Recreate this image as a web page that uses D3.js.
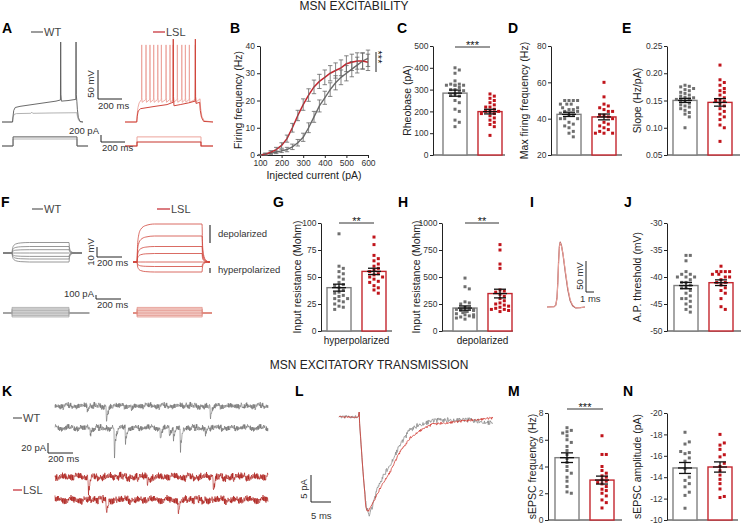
<!DOCTYPE html>
<html><head><meta charset="utf-8">
<script src="https://cdn.jsdelivr.net/npm/d3@7"></script>
<style>
body{margin:0;background:#fff;}
svg{display:block;font-family:"Liberation Sans",Arial,Helvetica,sans-serif;}
</style></head><body>
<svg id="c" width="741" height="525"></svg>
<script>
// ================= DATA =================
const groups = ["WT", "LSL"];

// A: current-clamp traces [time ms, mV]
const aWtSpiking = [[0,-80],[88,-80],[92,-70],[98,-60],[110,-55],[150,-53],[250,-50],[350,-47],[450,-44],[487,-42],[489,58],[491,-32],[495,-44],[550,-43],[615,-41],[617,58],[619,-33],[624,-45],[628,-58],[636,-72],[650,-79],[675,-80]];
const aWtSub = [[0,-80],[88,-80],[92,-72],[100,-67],[120,-65.5],[240,-65],[248,-63],[256,-65],[400,-64.5],[624,-64],[628,-70],[638,-77],[655,-80],[675,-80]];
const aLslLow = [[0,-80],[98,-80],[102,-70],[110,-61],[130,-57],[250,-53],[350,-50],[400,-46],[402,63],[404,-36],[408,-52],[460,-50],[530,-47],[584,-44],[586,63],[588,-36],[592,-48],[622,-46],[627,-60],[637,-72],[655,-79],[733,-80]];
const aLslHighBase = [[0,-80],[98,-80],[102,-66],[108,-55],[118,-47],[625,-40],[630,-56],[640,-70],[660,-78],[733,-80]];
const aLslHighSpikes = [139,175,208,239,273,303,342,375,402,436,473,503,536,586];
const aStimWt = [260, 200];   // pA
const aStimLsl = [260, 115];  // pA

// B: firing frequency vs injected current
const currents = [100,125,150,175,200,225,250,275,300,325,350,375,400,425,450,475,500,525,550,575,600];
const fWt  = [0,0.3,0.7,1,1.5,2,3,4.5,6.5,10,14,18,21,24,26.5,28.5,30,31.5,33,34.5,35.5];
const fWtErr = [0.2,0.3,0.4,0.5,0.6,0.8,1,1.2,1.5,1.8,2,2.2,2.4,2.5,2.6,2.7,2.8,2.8,2.9,2.9,3];
const fLsl = [0,0.3,1,2,3.5,6,10,14.5,18.5,22,25,27,28.5,30,31,32,33.5,34,34.5,34.5,34];
const fLslErr = [0.2,0.4,0.6,0.8,1,1.3,1.6,1.9,2.1,2.3,2.5,2.6,2.7,2.8,2.8,2.9,2.9,3,3,3,3];

// C–E, G, H, J, M, N: individual cells
const rheoWt  = [400,390,375,340,325,325,320,320,320,320,310,300,300,295,290,280,275,270,250,240,210,200,160,150,130];
const rheoLsl = [280,270,260,250,240,230,220,220,210,200,200,200,190,190,180,170,160,150,140,130,90];
const maxFWt  = [50,50,50,50,48,48,48,46,46,45,45,44,44,43,42,42,40,40,40,38,37,36,35,33,32,30];
const maxFLsl = [60,52,48,47,46,45,44,44,42,42,41,40,38,37,36,35,34,33,32,32,32];
const slopeWt  = [0.178,0.176,0.175,0.172,0.170,0.168,0.165,0.163,0.160,0.158,0.156,0.155,0.153,0.152,0.150,0.148,0.145,0.142,0.140,0.138,0.135,0.132,0.128,0.125,0.120,0.100];
const slopeLsl = [0.215,0.188,0.183,0.178,0.172,0.168,0.165,0.160,0.155,0.152,0.150,0.148,0.145,0.140,0.135,0.130,0.125,0.120,0.115,0.105,0.100,0.075];
const rinHypWt  = [90,60,58,55,53,50,48,45,43,42,40,38,36,35,33,32,30,30,28,27,25,23,22,20];
const rinHypLsl = [87,80,70,67,65,62,60,58,56,55,53,52,50,50,48,46,45,42,40,38,35];
const rinDepWt  = [490,410,390,270,250,260,200,190,220,210,200,190,180,170,160,150,140,130,120,110,180,200,150,130];
const rinDepLsl = [800,750,620,580,380,370,360,340,320,300,280,260,240,220,210,200,200,190,180,230,250];
const apThrWt  = [-36,-36,-37,-39.5,-39.5,-40,-40,-40.5,-41,-41,-41.5,-42,-42,-42.5,-43,-43.5,-44,-44,-44.5,-45,-45.5,-46,-46.5,-39,-40];
const apThrLsl = [-38,-39,-39,-39,-39,-39.5,-39.5,-40,-40,-40.5,-41,-41,-41.5,-42,-42.5,-43,-44,-45.5,-46];
const sFreqWt  = [6.9,6.7,6.6,6.5,6.3,6.0,5.8,5.5,5.2,4.9,4.6,4.3,4.0,3.7,3.5,3.2,2.9,2.5,2.1,2.0];
const sFreqLsl = [6.3,4.9,4.9,4.0,3.7,3.5,3.3,3.2,3.0,2.9,2.8,2.7,2.5,2.3,2.2,2.0,1.8,1.5,1.3,0.9];
const sAmpWt  = [-18.2,-17.3,-17.1,-16.4,-16.3,-16.2,-15.8,-15.5,-14.8,-14.0,-13.7,-13.4,-13.1,-12.6,-12.3,-11.1];
const sAmpLsl = [-18.0,-17.2,-17.0,-16.6,-16.1,-15.9,-15.3,-15.0,-14.6,-14.2,-13.8,-13.4,-12.9,-12.2,-12.1];

// F: steady-state voltage deflections (mV) and current steps (pA)
const fDefWt  = [10.5,6.5,3.3,0,-3.4,-6,-9];
const fDefLsl = [38,26,15.5,8.5,0,-4.5,-10];
const fSteps  = [-100,-60,-20,20,60,100,140];

// I: action potential waveform [ms, mV above baseline]
const apWave = [[0,0],[0.9,0.5],[1.1,3],[1.25,15],[1.35,40],[1.45,75],[1.55,98],[1.65,105],[1.8,100],[2.0,85],[2.3,55],[2.6,28],[2.9,10],[3.2,2],[3.6,-1.5],[4.2,-1],[4.75,0]];
const apWaveLsl = [[0,0],[0.9,0.5],[1.1,3],[1.25,14],[1.35,38],[1.45,72],[1.55,96],[1.65,104],[1.8,99],[2.0,86],[2.3,58],[2.6,31],[2.9,12],[3.2,3],[3.6,-1.2],[4.2,-1],[4.75,0]];

// K: sEPSC events [time ms, amplitude pA]
const kWt1  = [[256,10],[408,32],[608,10],[1240,32],[1496,10]];
const kWt2  = [[280,16],[472,58],[560,28],[840,24],[912,16],[944,20],[1000,50],[1200,10]];
const kLsl1 = [[264,32],[736,20],[1264,30]];
const kLsl2 = [[408,24],[984,30]];
const noiseTex = [0.3,-0.8,0.6,-0.2,0.9,-0.5,0.1,-0.9,0.4,0.7,-0.3,-0.6,0.8,-0.1,0.2,-0.7,0.5,-0.4,1.0,-0.8,0.0,0.6,-0.9,0.3,-0.2,0.7,-0.5,0.9,-0.6,0.1,-0.3,0.8,-1.0,0.4,0.2,-0.7,0.6,-0.1,0.5,-0.8,0.9,-0.4,0.0,0.7,-0.6,0.3,-0.9,0.8,-0.2,0.4,-0.5,1.0,-0.3,0.1,-0.8,0.6,-0.4,0.9,-0.7,0.2,0.5,-0.6,0.3,-0.1];
const epscKernel = [[0,0],[3,-1],[8,-0.6],[16,-0.32],[28,-0.12],[45,0]];

// L: averaged sEPSC [ms, pA]
const lWt  = [[0,0],[4.9,0],[5.0,1.7],[5.15,-1],[5.6,-6],[6.2,-12],[6.8,-16.5],[7.5,-18.3],[8.2,-17],[9.4,-13.8],[11,-11],[12.75,-8.9],[15,-5.5],[17.75,-2.4],[20,-1.4],[23.5,-0.7],[28,-0.5],[33,-0.6],[38.5,-1.1]];
const lLsl = [[0,0],[4.9,0],[5.0,1.5],[5.15,-1],[5.6,-6],[6.2,-12],[6.7,-16.5],[7.0,-17.6],[7.8,-17],[9.4,-14.5],[11,-12.2],[12.75,-10.2],[15,-6.8],[17.75,-3.9],[20,-2.6],[23.5,-1.3],[29.25,-0.9],[34,-0.5],[38.5,-0.2]];

// ================= DRAW =================
const svg = d3.select("#c");
const COL = {gray:"#7a7a7a", dgray:"#5a5a5a", lgray:"#a9a9a9", red:"#c4262e", dred:"#b01512", pink:"#eca39b", dot:"#6f6f6f", rdot:"#c0141b", axis:"#222", tick:"#333"};
const TICK_FS = 8.5;

function txt(x,y,s,o={}){
  const t=svg.append("text").attr("x",x).attr("y",y).text(s)
    .attr("font-size",o.size||10).attr("fill",o.fill||"#222").attr("text-anchor",o.anchor||"start");
  if(o.weight) t.attr("font-weight",o.weight);
  if(o.rot!==undefined) t.attr("transform",`rotate(${o.rot},${x},${y})`);
  if(o.dy) t.attr("dy",o.dy);
  return t;
}
function hline(x1,x2,y,c,w){svg.append("line").attr("x1",x1).attr("x2",x2).attr("y1",y).attr("y2",y).attr("stroke",c||"#222").attr("stroke-width",w||1);}
function vline(x,y1,y2,c,w){svg.append("line").attr("x1",x).attr("x2",x).attr("y1",y1).attr("y2",y2).attr("stroke",c||"#222").attr("stroke-width",w||1);}
function styleAxis(g){
  g.attr("font-family",null).attr("font-size",null);
  g.select(".domain").attr("stroke",COL.axis).attr("stroke-width",1);
  g.selectAll(".tick line").attr("stroke",COL.axis);
  g.selectAll(".tick text").attr("font-size",TICK_FS).attr("fill",COL.tick);
}
function interp(pts,t){
  if(t<=pts[0][0]) return pts[0][1];
  for(let i=1;i<pts.length;i++){ if(t<=pts[i][0]){const [t0,v0]=pts[i-1],[t1,v1]=pts[i]; return v0+(v1-v0)*(t-t0)/(t1-t0);} }
  return pts[pts.length-1][1];
}
function drawPath(pts,x,y,color,w,curve){
  svg.append("path").attr("d",d3.line().x(d=>x(d[0])).y(d=>y(d[1])).curve(curve||d3.curveLinear)(pts))
    .attr("fill","none").attr("stroke",color).attr("stroke-width",w||1).attr("stroke-linejoin","round");
}

// titles
txt(354,10,"MSN EXCITABILITY",{size:12,anchor:"middle",fill:"#222"});
txt(369,369,"MSN EXCITATORY TRANSMISSION",{size:12,anchor:"middle",fill:"#222"});

// panel letters
[["A",2,33],["B",230,33],["C",397,33],["D",508,33],["E",622,33],
 ["F",1,207],["G",273,207],["H",398,207],["I",530,207],["J",624,207],
 ["K",2,396],["L",295,396],["M",508,396],["N",623,396]].forEach(([s,x,y])=>txt(x,y,s,{size:14,weight:"bold",fill:"#000"}));

// ---------- A ----------
const yA = d3.scaleLinear().domain([-80,58]).range([122,42]);
const xAw = d3.scaleLinear().domain([0,675]).range([2,83]);
const xAl = d3.scaleLinear().domain([0,733]).range([125,213]);
hline(31,43,32,COL.dgray,1.2); txt(44,36,"WT",{size:11,fill:"#444"});
hline(153,165,32,COL.red,1.2); txt(166,36,"LSL",{size:11,fill:"#444"});
drawPath(aWtSub,xAw,yA,COL.lgray,0.9);
drawPath(aWtSpiking,xAw,yA,COL.dgray,0.9);
function withSpikes(base,spikes){
  const pts=base.slice();
  spikes.forEach(ts=>{pts.push([ts-1,-41],[ts,53],[ts+1.5,-38],[ts+4,-46]);});
  return pts.sort((a,b)=>a[0]-b[0]);
}
drawPath(withSpikes(aLslHighBase,aLslHighSpikes),xAl,yA,COL.pink,0.9);
drawPath(aLslLow,xAl,yA,"#d0463c",1);
// A scale bars
vline(98,70,99); hline(98,122,99);
txt(94,84,"50 mV",{size:9.5,anchor:"middle",rot:-90,fill:"#333"});
txt(98,109,"200 ms",{size:9.5,fill:"#333"});
// A stimuli
const yStimA = d3.scaleLinear().domain([0,200]).range([146,139]);
function stimPath(c,on,off,end){return [[0,0],[on,0],[on,c],[off,c],[off,0],[end,0]];}
drawPath(stimPath(aStimWt[1],92,625,717),xAw,yStimA,"#b5b5b5",1);
drawPath(stimPath(aStimWt[0],92,625,717),xAw,yStimA,COL.dgray,1);
drawPath(stimPath(aStimLsl[0],100,633,733),xAl,yStimA,COL.pink,1);
drawPath(stimPath(aStimLsl[1],100,633,733),xAl,yStimA,"#c8352c",1.1);
txt(99,134,"200 pA",{size:9.5,anchor:"end",fill:"#333"});
vline(101,135,142); hline(101,125,142);
txt(102,151,"200 ms",{size:9.5,fill:"#333"});

// ---------- B ----------
const xB = d3.scaleLinear().domain([100,600]).range([260,368]);
const yB = d3.scaleLinear().domain([0,40]).range([155,46]);
svg.append("g").attr("transform","translate(260,0)").call(d3.axisLeft(yB).tickValues([0,10,20,30,40]).tickSize(3).tickSizeOuter(0).tickPadding(2)).call(styleAxis);
svg.append("g").attr("transform","translate(0,155)").call(d3.axisBottom(xB).tickValues([100,200,300,400,500,600]).tickSize(3).tickSizeOuter(0).tickPadding(2)).call(styleAxis);
txt(238,100,"Firing frequency (Hz)",{size:10.5,anchor:"middle",rot:-90,dy:"0.35em",fill:"#222"});
txt(314,179,"Injected current (pA)",{size:10.5,anchor:"middle",fill:"#222"});
function curveB(vals,errs,col,w){
  svg.append("path").attr("d",d3.line().x((d,i)=>xB(currents[i])).y(d=>yB(d))(vals)).attr("fill","none").attr("stroke",col).attr("stroke-width",w);
  vals.forEach((v,i)=>{
    const cx=xB(currents[i]); const e=errs[i];
    vline(cx,yB(v-e),yB(v+e),"#666",0.8);
    hline(cx-2.2,cx+2.2,yB(v+e),"#666",0.8); hline(cx-2.2,cx+2.2,yB(v-e),"#666",0.8);
  });
}
curveB(fWt,fWtErr,"#6a6a6a",1.4);
curveB(fLsl,fLslErr,COL.red,1.5);
vline(376,52,72);
txt(382,57,"***",{size:11,anchor:"middle",rot:90,dy:"0.7em",fill:"#111"});

// ---------- bar panels ----------
function swarm(vals,y,cx){
  const placed=[]; const offs=[0,4.3,-4.3,8.6,-8.6,2.2,-2.2,6.4,-6.4];
  vals.slice().sort((a,b)=>b-a).forEach((v,i)=>{
    const yy=y(v); let o=null;
    for(const c of offs){ if(!placed.some(p=>Math.abs(p.x-(cx+c))<3.7&&Math.abs(p.y-yy)<3.7)){o=c;break;} }
    if(o===null) o=offs[i%offs.length];
    placed.push({x:cx+o,y:yy});
  });
  return placed;
}
function barPanel(p){
  const y=d3.scaleLinear().domain(p.domain).range([p.yBot,p.yTop]);
  const x=d3.scaleBand().domain(groups).range([p.barStart,p.barStart+59]).paddingInner(0.314).paddingOuter(0);
  svg.append("g").attr("transform",`translate(${p.axisX},0)`)
    .call(d3.axisLeft(y).tickValues(p.ticks).tickSize(3).tickSizeOuter(0).tickPadding(1.5).tickFormat(p.fmt||(d=>String(d)))).call(styleAxis);
  hline(p.axisX,p.xEnd,p.yBot,COL.axis,1);
  txt(p.labelX,(p.yTop+p.yBot)/2,p.label,{size:10.5,anchor:"middle",rot:-90,dy:"0.35em",fill:"#222"});
  if(p.xlab) txt(p.barStart+29.5,p.yBot+13,p.xlab,{size:10,anchor:"middle",fill:"#222"});
  [["WT",p.wt],["LSL",p.lsl]].forEach(([k,vals])=>{
    const m=d3.mean(vals), sem=d3.deviation(vals)/Math.sqrt(vals.length);
    const bx=x(k), bw=x.bandwidth();
    const y0=y(p.domain[0]), ym=y(m);
    svg.append("rect").attr("x",bx).attr("width",bw).attr("y",Math.min(y0,ym)).attr("height",Math.abs(y0-ym))
      .attr("fill","#fff").attr("stroke",k==="WT"?"#808080":COL.red).attr("stroke-width",1.4);
    swarm(vals,y,bx+bw/2).forEach(d=>svg.append("rect").attr("x",d.x-1.5).attr("y",d.y-1.5).attr("width",3).attr("height",3).attr("fill",k==="WT"?COL.dot:COL.rdot));
    const cx=bx+bw/2;
    vline(cx,y(m-sem),y(m+sem),"#111",1.3);
    hline(cx-6,cx+6,y(m+sem),"#111",1.3); hline(cx-6,cx+6,y(m-sem),"#111",1.3);
    hline(cx-7,cx+7,ym,"#111",1.3);
  });
  if(p.sig){
    const [x1,x2,ly,s]=p.sig;
    hline(x1,x2,ly,"#333",1);
    txt((x1+x2)/2,ly+2,s,{size:11,anchor:"middle",fill:"#111"});
  }
}
const TOP=[46,155], MID=[223,331], BOT=[413,520];
barPanel({axisX:433,barStart:443,xEnd:505,yTop:TOP[0],yBot:TOP[1],domain:[0,500],ticks:[0,100,200,300,400,500],label:"Rheobase (pA)",labelX:407,wt:rheoWt,lsl:rheoLsl,sig:[455,490,47,"***"]});
barPanel({axisX:551,barStart:557,xEnd:622,yTop:TOP[0],yBot:TOP[1],domain:[20,80],ticks:[20,40,60,80],label:"Max firing frequency (Hz)",labelX:524,wt:maxFWt,lsl:maxFLsl});
barPanel({axisX:667,barStart:673,xEnd:740,yTop:TOP[0],yBot:TOP[1],domain:[0.05,0.25],ticks:[0.05,0.10,0.15,0.20,0.25],fmt:d3.format(".2f"),label:"Slope (Hz/pA)",labelX:637,wt:slopeWt,lsl:slopeLsl});
barPanel({axisX:321,barStart:327,xEnd:392,yTop:MID[0],yBot:MID[1],domain:[0,100],ticks:[0,25,50,75,100],label:"Input resistance (Mohm)",labelX:297,wt:rinHypWt,lsl:rinHypLsl,xlab:"hyperpolarized",sig:[339,374,223,"**"]});
barPanel({axisX:442,barStart:453,xEnd:513,yTop:MID[0],yBot:MID[1],domain:[0,1000],ticks:[0,250,500,750,1000],label:"Input resistance (Mohm)",labelX:416,wt:rinDepWt,lsl:rinDepLsl,xlab:"depolarized",sig:[465,499,223,"**"]});
barPanel({axisX:667,barStart:674,xEnd:741,yTop:MID[0],yBot:MID[1],domain:[-50,-30],ticks:[-50,-45,-40,-35,-30],label:"A.P. threshold (mV)",labelX:637,wt:apThrWt,lsl:apThrLsl});
barPanel({axisX:548,barStart:555,xEnd:622,yTop:BOT[0],yBot:BOT[1],domain:[0,8],ticks:[0,2,4,6,8],label:"sEPSC frequency (Hz)",labelX:532,wt:sFreqWt,lsl:sFreqLsl,sig:[567,603,409,"***"]});
barPanel({axisX:667,barStart:673,xEnd:738,yTop:BOT[0],yBot:BOT[1],domain:[-10,-20],ticks:[-10,-12,-14,-16,-18,-20],label:"sEPSC amplitude (pA)",labelX:637,wt:sAmpWt,lsl:sAmpLsl});

// ---------- F ----------
hline(32,43,209,COL.dgray,1.2); txt(44,213,"WT",{size:11,fill:"#444"});
hline(157,170,209,COL.red,1.2); txt(171,213,"LSL",{size:11,fill:"#444"});
const chargeShape=[[0,0],[4,0.4],[12,0.68],[30,0.86],[70,0.96],[140,1]];
const dischargeShape=[[0,1],[4,0.5],[12,0.2],[30,0.05],[60,0]];
function stepResp(d,on,off,end){
  const pts=[[0,0],[on,0]];
  chargeShape.forEach(([dt,f])=>pts.push([on+dt,f*d]));
  pts.push([off,d]);
  dischargeShape.forEach(([dt,f])=>pts.push([off+dt,f*d]));
  pts.push([end,0]);
  return pts;
}
const xFw=d3.scaleLinear().domain([0,632]).range([3,82]);
const xFl=d3.scaleLinear().domain([0,600]).range([133,208]);
const yFw=d3.scaleLinear().domain([0,10]).range([253,243]);
const yFl=d3.scaleLinear().domain([0,10]).range([262,252]);
fDefWt.forEach(d=>drawPath(stepResp(d,72,528,632),xFw,yFw,"#7d7d7d",0.8,d3.curveMonotoneX));
fDefLsl.forEach(d=>drawPath(stepResp(d,32,552,600),xFl,yFl,"#d0463c",0.8,d3.curveMonotoneX));
vline(97,247,257); hline(97,122,257);
txt(94,252,"10 mV",{size:9.5,anchor:"middle",rot:-90,fill:"#333"});
txt(97,266,"200 ms",{size:9.5,fill:"#333"});
vline(210,225,243,"#333",1.2); txt(218,237,"depolarized",{size:9.5,fill:"#333"});
vline(210,268,273,"#333",1.2); txt(218,273,"hyperpolarized",{size:9.5,fill:"#333"});
// F stimuli
const yFs=d3.scaleLinear().domain([0,100]).range([313,309]);
svg.append("rect").attr("x",xFw(72)).attr("width",xFw(528)-xFw(72)).attr("y",yFs(d3.max(fSteps))).attr("height",yFs(d3.min(fSteps))-yFs(d3.max(fSteps))).attr("fill","#e2e2e2");
svg.append("rect").attr("x",xFl(32)).attr("width",xFl(552)-xFl(32)).attr("y",yFs(d3.max(fSteps))).attr("height",yFs(d3.min(fSteps))-yFs(d3.max(fSteps))).attr("fill","#f8dcd8");
const xFsw=d3.scaleLinear().domain([0,632]).range([3,82]);
fSteps.forEach(c=>drawPath(stimPath(c,72,528,690),xFsw,yFs,"#a0a0a0",0.7));
fSteps.forEach(c=>drawPath(stimPath(c,32,552,630),d3.scaleLinear().domain([-56,630]).range([126,212]),yFs,"#e08a80",0.7));
txt(94,297,"100 pA",{size:9.5,anchor:"end",fill:"#333"});
vline(96,295,299); hline(96,121,299);
txt(97,308,"200 ms",{size:9.5,fill:"#333"});

// ---------- I ----------
const xI=d3.scaleLinear().domain([0,4.75]).range([547,585]);
const yI=d3.scaleLinear().domain([0,105]).range([307,242]);
drawPath(apWave,xI,yI,"#a05050",1.2);
drawPath(apWaveLsl,xI,yI,"#eda39b",1);
vline(586,261,292); hline(586,594,292);
txt(583,276,"50 mV",{size:9.5,anchor:"middle",rot:-90,fill:"#333"});
txt(580,302,"1 ms",{size:9.5,fill:"#333"});

// ---------- K ----------
const kDur=1704;
const xK=d3.scaleLinear().domain([0,kDur]).range([55,268]);
function kTrace(events,amp,off){
  const out=[]; let i=0; const n=noiseTex.length;
  for(let t=0;t<=kDur;t+=2){
    let v=0;
    events.forEach(([te,a])=>{ if(t>=te&&t<te+45) v+=a*interp(epscKernel,t-te); });
    v+=amp*(0.7*noiseTex[(i*7+off)%n]+0.45*noiseTex[(Math.floor(i/6)*13+off*3)%n]);
    out.push([t,v]); i++;
  }
  return out;
}
function yK(c){return d3.scaleLinear().domain([0,-20]).range([c,c+10]);}
drawPath(kTrace(kWt1,7,0),xK,yK(406),"#6b6b6b",0.6);
drawPath(kTrace(kWt2,7,17),xK,yK(428),"#6b6b6b",0.6);
drawPath(kTrace(kLsl1,9,33),xK,yK(477),"#a8100c",0.6);
drawPath(kTrace(kLsl2,9,51),xK,yK(500),"#a8100c",0.6);
hline(13,22,418,COL.dgray,1.2); txt(23,422,"WT",{size:11,fill:"#444"});
hline(13,22,490,COL.red,1.2); txt(23,494,"LSL",{size:11,fill:"#444"});
txt(46,451,"20 pA",{size:9.5,anchor:"end",fill:"#333"});
vline(48,443,453); hline(48,73,453);
txt(48,462,"200 ms",{size:9.5,fill:"#333"});

// ---------- L ----------
const xL=d3.scaleLinear().domain([0,38.5]).range([339,493]);
const yL=d3.scaleLinear().domain([0,-5]).range([417,444]);
function lTrace(pts,amp,off){
  const out=[]; let i=0;
  for(let t=0;t<=38.5;t+=0.12){ out.push([t,interp(pts,t)+(t>5.4?amp:amp*0.6)*noiseTex[(i*11+off)%noiseTex.length]]); i++; }
  return out;
}
drawPath(lTrace(lWt,0.45,3),xL,yL,"#8a8a8a",0.8);
drawPath(lTrace(lLsl,0.22,29),xL,yL,"#d03a32",0.8);
vline(311,475,502); hline(311,331,502);
txt(307,489,"5 pA",{size:9.5,anchor:"middle",rot:-90,fill:"#333"});
txt(311,519,"5 ms",{size:9.5,fill:"#333"});
</script>
</body></html>
